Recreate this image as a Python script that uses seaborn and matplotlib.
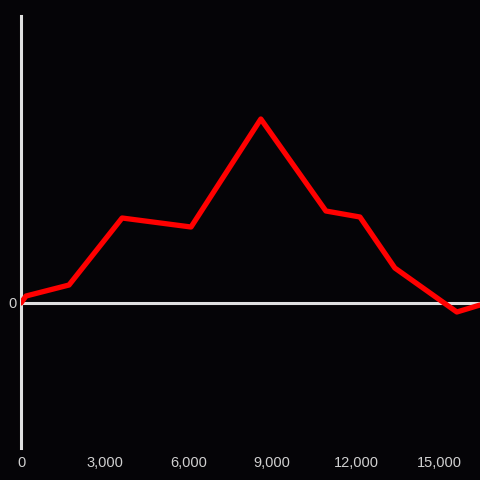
import matplotlib
matplotlib.use("Agg")
import matplotlib.pyplot as plt
import seaborn as sns
import pandas as pd

x_values = [0, 180, 1720, 3620, 6090, 8590, 10920, 12140, 13390, 15610, 16440]
y_values = [0, 7, 18, 85, 76, 184, 92, 86, 35, -9, -2]
x_ticks = [0, 3000, 6000, 9000, 12000, 15000]
x_tick_labels = ["0", "3,000", "6,000", "9,000", "12,000", "15,000"]
y_ticks = [0]
y_tick_labels = ["0"]

df = pd.DataFrame({"x": x_values, "y": y_values})

sns.set_style("dark")
plt.rcParams['font.family'] = ['Liberation Sans', 'DejaVu Sans']
bg = "#050407"
fig = plt.figure(figsize=(4.8, 4.8), dpi=100, facecolor=bg)
ax = fig.add_axes([21/480, 32/480, (480-21)/480, (448-16)/480])
ax.set_facecolor(bg)

sns.lineplot(data=df, x="x", y="y", ax=ax, color="#ff0000", linewidth=3.8, zorder=3)
ax.axhline(0, color="#e0e0e0", linewidth=2.2, zorder=2)

ax.set_xlim(0, 16440)
ax.set_ylim(-145, 287)
ax.grid(False)
for s in ["top", "right", "bottom"]:
    ax.spines[s].set_visible(False)
ax.spines["left"].set_color("#e0e0e0")
ax.spines["left"].set_linewidth(2.2)

ax.set_xticks(x_ticks)
ax.set_xticklabels(x_tick_labels)
ax.set_yticks(y_ticks)
ax.set_yticklabels(y_tick_labels)
ax.tick_params(axis="both", length=0, colors="#d0d0d0", labelsize=10.5)
ax.tick_params(axis="x", pad=6)
ax.tick_params(axis="y", pad=3)
ax.set_xlabel("")
ax.set_ylabel("")

fig.savefig("out.png", dpi=100, facecolor=bg)
